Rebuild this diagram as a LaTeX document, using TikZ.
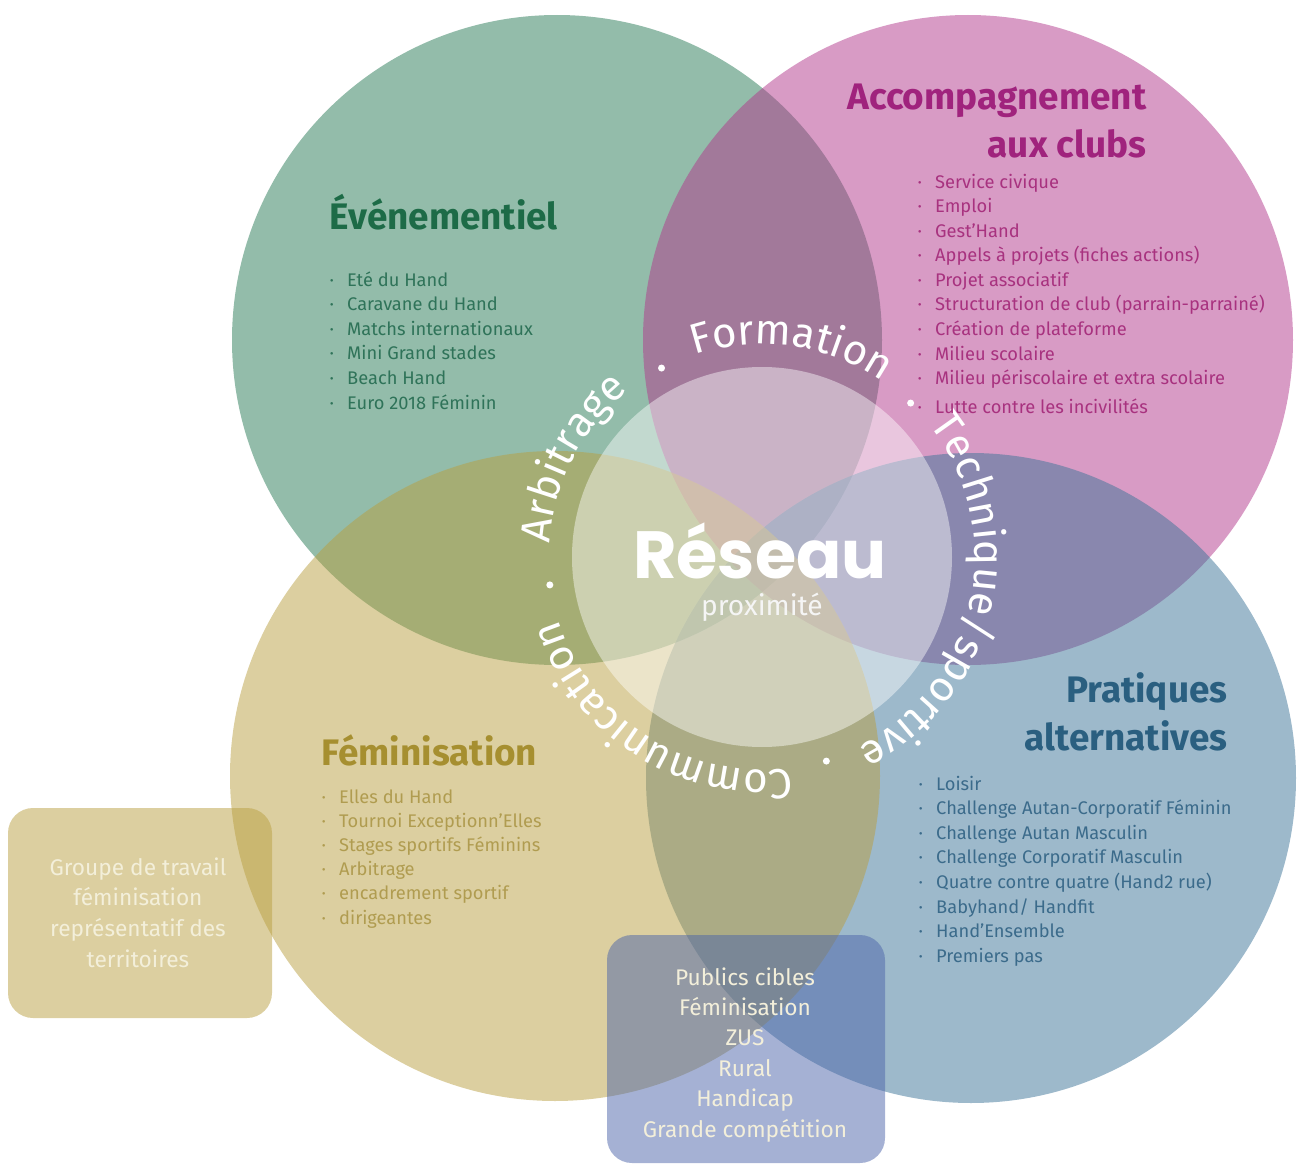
\documentclass[tikz,border=0pt]{standalone}
\usepackage{fontspec}
\setmainfont{Fira Sans}
\newfontfamily\reseaufont{Poppins}
\usetikzlibrary{decorations.text,positioning}

\definecolor{evtvert}{HTML}{277955}
\definecolor{accrose}{HTML}{B1378B}
\definecolor{prableu}{HTML}{3B7397}
\definecolor{femor}{HTML}{B99F41}
\definecolor{cibleu}{HTML}{4C64A9}
\definecolor{evttitre}{HTML}{1D6B47}
\definecolor{evttexte}{HTML}{2F7359}
\definecolor{acctitre}{HTML}{A0237D}
\definecolor{acctexte}{HTML}{A8327F}
\definecolor{femtitre}{HTML}{A68F30}
\definecolor{femtexte}{HTML}{B09C50}
\definecolor{pratitre}{HTML}{2A5F80}
\definecolor{pratexte}{HTML}{3B6B8B}
\definecolor{creme}{HTML}{F3EFDA}

\newcommand{\puce}{\makebox[1.75mm][l]{\textperiodcentered}}
\newcommand{\ringfont}{\fontsize{12}{14}\selectfont}

\begin{document}
\begin{tikzpicture}[
    bulle/.style={fill opacity=0.5},
    titre/.style={font=\fontsize{10.5}{12}\selectfont\bfseries, inner sep=0},
    item/.style={font=\fontsize{5.2}{6.5}\selectfont, inner sep=0, anchor=base west},
    cadre/.style={rounded corners=2.5mm, fill opacity=0.5},
    ligne/.style={font=\fontsize{6.45}{8}\selectfont, text=creme, inner sep=0, anchor=base},
    anneau/.style={decorate, decoration={text along path, text color=white,
        text align=center, text={|\ringfont|#1}}}
  ]
  \useasboundingbox (0,0) rectangle (13.01,11.65);

  % les quatre cercles
  \coordinate (cE) at (5.57,8.25);
  \coordinate (cA) at (9.68,8.25);
  \coordinate (cP) at (9.71,3.87);
  \coordinate (cF) at (5.55,3.89);
  \coordinate (cR) at (7.62,6.08);
  \fill[evtvert, bulle] (cE) circle (3.25);
  \fill[accrose, bulle] (cA) circle (3.25);
  \fill[prableu, bulle] (cP) circle (3.25);
  \fill[femor, bulle] (cF) circle (3.25);
  \fill[white, fill opacity=0.44] (cR) circle (1.9);

  % cadres
  \fill[femor, cadre] (0.08,1.47) rectangle (2.72,3.57);
  \fill[cibleu, cadre] (6.07,0.02) rectangle (8.85,2.30);

  % anneau autour du reseau
  \path[anneau=Formation] (cR) ++(116:2.13) arc[start angle=116, end angle=48, radius=2.13];
  \path[anneau=Technique/sportive] (cR) ++(44:2.13) arc[start angle=44, end angle=-69, radius=2.13];
  \path[anneau=Communication] (cR) ++(-75:2.13) arc[start angle=-75, end angle=-170, radius=2.13];
  \path[anneau=Arbitrage] (cR) ++(185:2.13) arc[start angle=185, end angle=120, radius=2.13];
  \foreach \a in {118,46,-72.5,187.5}
    \fill[white] (cR) ++(\a:2.14) circle (0.035);

  \node[text=white, inner sep=0, anchor=base, font=\reseaufont\bfseries\fontsize{19}{22}\selectfont] (reseau) at (7.60,5.87) {Réseau};
  \node[text=white!92!gray, inner sep=0, anchor=base, font=\fontsize{8}{9}\selectfont] (proxi) at (7.62,5.50) {proximité};

  % Evenementiel
  \node[titre, text=evttitre, anchor=base west] (evt) at (3.29,9.36) {Événementiel};
  \foreach \t [count=\i from 0] in {Eté du Hand, Caravane du Hand, Matchs internationaux,
      Mini Grand stades, Beach Hand, Euro 2018 Féminin}
    \node[item, text=evttexte] (evt\i) at (3.29,8.79-0.246*\i) {\puce\t};

  % Accompagnement
  \node[titre, text=acctitre, anchor=base east] (acc) at (11.47,10.55) {Accompagnement};
  \node[titre, text=acctitre, anchor=base east] (acc2) at (11.47,10.07) {aux clubs};
  \foreach \t [count=\i from 0] in {Service civique, Emploi, Gest’Hand,
      Appels à projets (fiches actions), Projet associatif,
      Structuration de club (parrain-parrainé), Création de plateforme,
      Milieu scolaire, Milieu périscolaire et extra scolaire}
    \node[item, text=acctexte] (acc\i) at (9.17,9.77-0.246*\i) {\puce\t};
  \node[item, text=acctexte] (acc9) at (9.17,7.52) {\puce Lutte contre les incivilités};

  % Feminisation
  \node[titre, text=femtitre, anchor=base west] (fem) at (3.21,4.00) {Féminisation};
  \foreach \t [count=\i from 0] in {Elles du Hand, Tournoi Exceptionn’Elles,
      Stages sportifs Féminins, Arbitrage, encadrement sportif, dirigeantes}
    \node[item, text=femtexte] (fem\i) at (3.21,3.62-0.242*\i) {\puce\t};

  % Pratiques alternatives
  \node[titre, text=pratitre, anchor=base east] (pra) at (12.28,4.63) {Pratiques};
  \node[titre, text=pratitre, anchor=base east] (pra2) at (12.28,4.15) {alternatives};
  \foreach \t [count=\i from 0] in {Loisir, Challenge Autan-Corporatif Féminin,
      Challenge Autan Masculin, Challenge Corporatif Masculin,
      Quatre contre quatre (Hand2 rue), Babyhand/ Handfit, Hand’Ensemble, Premiers pas}
    \node[item, text=pratexte] (pra\i) at (9.18,3.75-0.246*\i) {\puce\t};

  % textes des cadres
  \foreach \t [count=\i from 0] in {Groupe de travail, féminisation,
      représentatif des, territoires}
    \node[ligne] (grp\i) at (1.38,2.90-0.307*\i) {\t};
  \foreach \t [count=\i from 0] in {Publics cibles, Féminisation, ZUS, Rural,
      Handicap, Grande compétition}
    \node[ligne] (pub\i) at (7.45,1.80-0.304*\i) {\t};
\end{tikzpicture}
\end{document}
